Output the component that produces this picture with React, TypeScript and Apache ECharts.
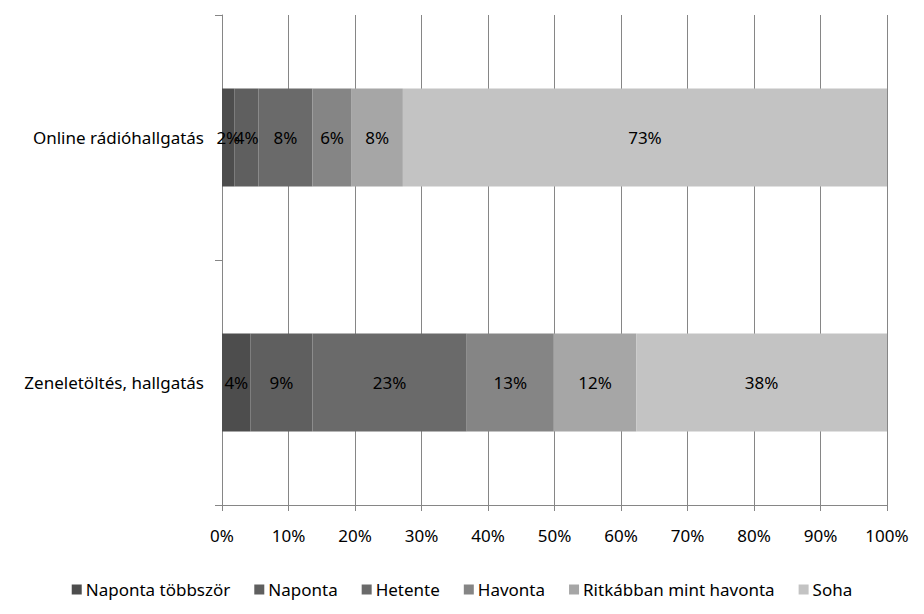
import React, { useEffect, useRef } from "react";
import * as echarts from "echarts";

const categories = ["Zeneletöltés, hallgatás", "Online rádióhallgatás"];
const seriesNames = ["Naponta többször", "Naponta", "Hetente", "Havonta", "Ritkábban mint havonta", "Soha"];
// values per series: [Zeneletöltés, Online rádió]
const napontaTobbszor = [4.3, 1.9];
const naponta = [9.3, 3.6];
const hetente = [23.2, 8.1];
const havonta = [13.1, 5.9];
const ritkabban = [12.4, 7.7];
const soha = [37.7, 72.8];
const xTicks = [0, 10, 20, 30, 40, 50, 60, 70, 80, 90, 100];

const colors = ["#4d4d4d", "#5f5f5f", "#6a6a6a", "#858585", "#a6a6a6", "#c3c3c3"];
const FONT = "Noto Sans";
const FS = 17;

export default function App() {
  const ref = useRef<HTMLDivElement>(null);
  useEffect(() => {
    document.body.style.margin = "0";
    const chart = echarts.init(ref.current!, null, { renderer: "svg" });
    const data = [napontaTobbszor, naponta, hetente, havonta, ritkabban, soha];
    chart.setOption({
      animation: false,
      backgroundColor: "#ffffff",
      textStyle: { fontFamily: FONT },
      grid: { left: 222, right: 37, top: 15, bottom: 109, containLabel: false },
      legend: {
        bottom: 11,
        left: "center",
        itemWidth: 10,
        itemHeight: 10,
        itemGap: 24,
        icon: "rect",
        data: seriesNames,
        textStyle: { fontFamily: FONT, fontSize: FS, color: "#000", padding: [0, 0, 0, -1] },
      },
      xAxis: {
        type: "value",
        min: xTicks[0],
        max: xTicks[xTicks.length - 1],
        interval: 10,
        axisLine: { show: true, lineStyle: { color: "#868686" } },
        axisTick: { show: true, length: 6, lineStyle: { color: "#868686" } },
        axisLabel: { formatter: "{value}%", margin: 22, fontFamily: FONT, fontSize: FS, color: "#000" },
        splitLine: { show: true, lineStyle: { color: "#868686" } },
      },
      yAxis: {
        type: "category",
        data: categories,
        axisLine: { show: true, lineStyle: { color: "#868686" } },
        axisTick: { show: true, length: 7, lineStyle: { color: "#868686" } },
        axisLabel: { margin: 18, fontFamily: FONT, fontSize: FS, color: "#000" },
      },
      series: seriesNames.map((name, i) => ({
        name,
        type: "bar",
        stack: "total",
        barWidth: "40%",
        data: data[i],
        itemStyle: { color: colors[i] },
        label: {
          show: true,
          position: "inside",
          color: "#000",
          fontFamily: FONT,
          fontSize: FS,
          formatter: (p: any) => Math.round(p.value) + "%",
        },
      })),
    });
    return () => chart.dispose();
  }, []);
  return <div ref={ref} style={{ width: 924, height: 614 }} />;
}
